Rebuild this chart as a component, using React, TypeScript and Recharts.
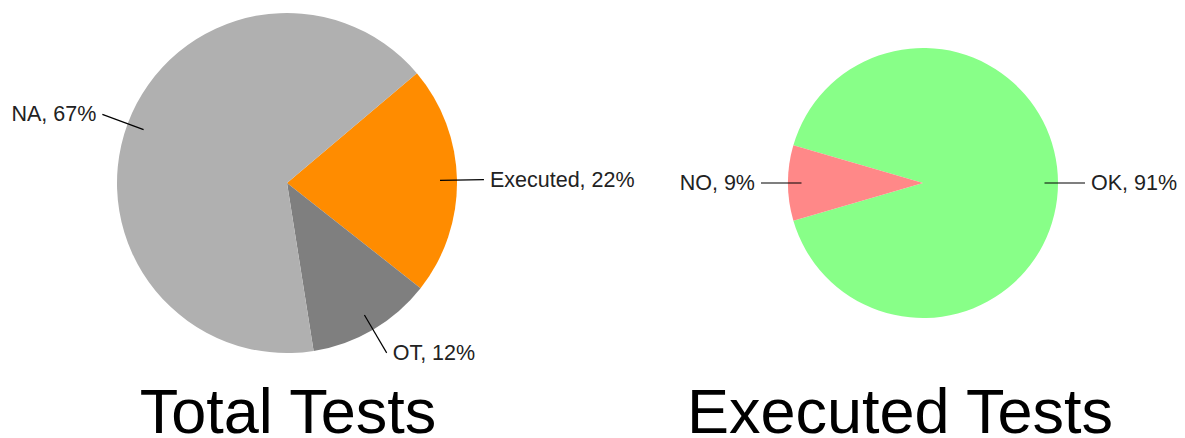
import React from 'react';
import {Cell, Pie, PieChart} from 'recharts';

const totalNames = ['Executed', 'OT', 'NA'];
const totalValues = [22, 12, 67];
const totalColors = ['#ff8c00', '#7f7f7f', '#b0b0b0'];

const executedNames = ['OK', 'NO'];
const executedValues = [91, 9];
const executedColors = ['#88ff88', '#ff8888'];

const titles = ['Total Tests', 'Executed Tests'];

const FONT = '"Liberation Sans", Arial, sans-serif';
const RADIAN = Math.PI / 180;

const totalData = totalNames.map((name, i) => ({name, value: totalValues[i]}));
const executedData = executedNames.map((name, i) => ({name, value: executedValues[i]}));

const renderLabel = (props: any) => {
    const {cx, cy, midAngle, outerRadius, name, value} = props;
    const cos = Math.cos(-midAngle * RADIAN);
    const sin = Math.sin(-midAngle * RADIAN);
    const r1 = outerRadius * 0.9;
    const r2 = outerRadius + 27;
    const x1 = cx + r1 * cos;
    const y1 = cy + r1 * sin;
    const x2 = cx + r2 * cos;
    const y2 = cy + r2 * sin;
    const right = cos >= 0;
    return (
        <g>
            <line x1={x1} y1={y1} x2={x2} y2={y2} stroke="#000" strokeWidth={1.2}/>
            <text
                x={x2 + (right ? 6 : -6)}
                y={y2}
                textAnchor={right ? 'start' : 'end'}
                dominantBaseline="central"
                fontFamily={FONT}
                fontSize={21.5}
                fill="#222"
            >
                {`${name}, ${value}%`}
            </text>
        </g>
    );
};

export default function App() {
    return (
        <div style={{position: 'absolute', left: 0, top: 0, background: '#fff'}}>
            <PieChart width={1185} height={438} margin={{top: 0, right: 0, bottom: 0, left: 0}}>
                <Pie
                    data={totalData}
                    dataKey="value"
                    cx={287}
                    cy={183}
                    outerRadius={170}
                    startAngle={40.2}
                    endAngle={40.2 - 360}
                    stroke="none"
                    label={renderLabel}
                    labelLine={false}
                    isAnimationActive={false}
                >
                    {totalData.map((d, i) => <Cell key={d.name} fill={totalColors[i]}/>)}
                </Pie>
                <Pie
                    data={executedData}
                    dataKey="value"
                    cx={923}
                    cy={183}
                    outerRadius={135}
                    startAngle={163.8}
                    endAngle={163.8 - 360}
                    stroke="none"
                    label={renderLabel}
                    labelLine={false}
                    isAnimationActive={false}
                >
                    {executedData.map((d, i) => <Cell key={d.name} fill={executedColors[i]}/>)}
                </Pie>
                <text x={288} y={433} textAnchor="middle" fontFamily={FONT} fontSize={63} fill="#000">
                    {titles[0]}
                </text>
                <text x={900} y={433} textAnchor="middle" fontFamily={FONT} fontSize={63} fill="#000">
                    {titles[1]}
                </text>
            </PieChart>
        </div>
    );
}
